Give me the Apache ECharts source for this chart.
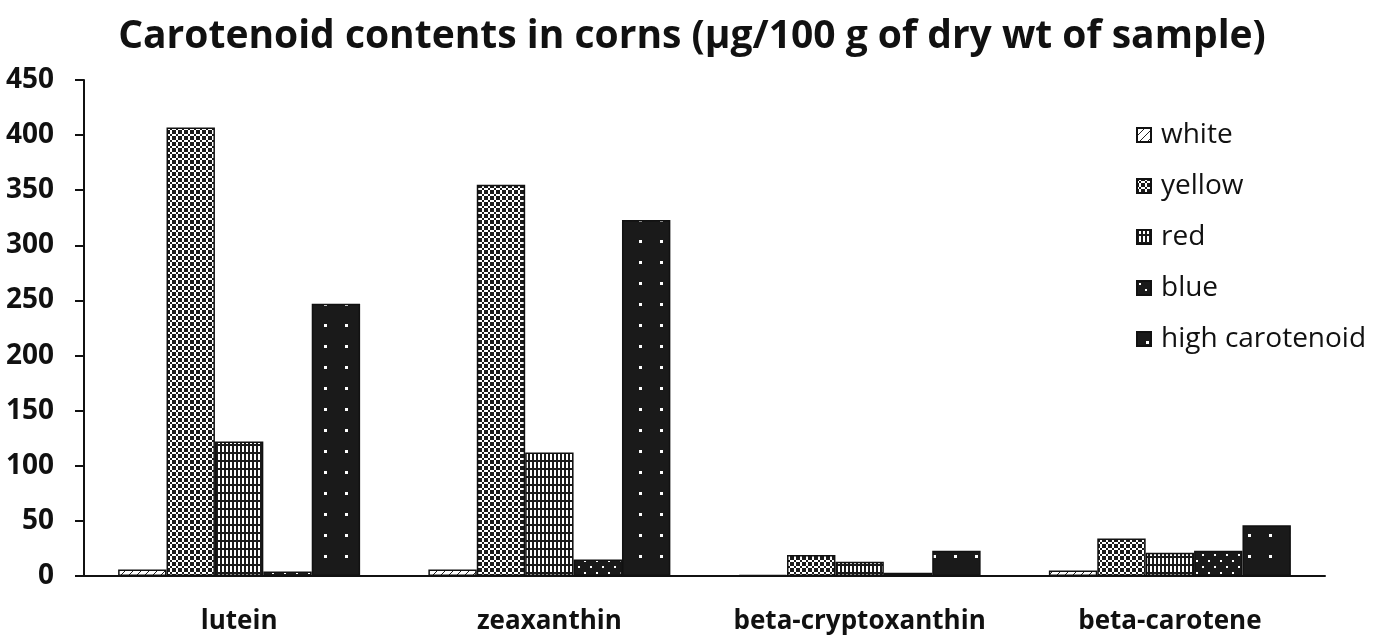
<!DOCTYPE html>
<html>
<head>
<meta charset="utf-8">
<script src="https://cdn.jsdelivr.net/npm/echarts@6/dist/echarts.min.js"></script>
<style>
html,body{margin:0;padding:0;background:#fff;}
#chart{width:1384px;height:642px;}
</style>
</head>
<body>
<div id="chart"></div>
<script>
const titleText = 'Carotenoid contents in corns (\u03bcg/100 g of dry wt of sample)';
const categories = ['lutein', 'zeaxanthin', 'beta-cryptoxanthin', 'beta-carotene'];
const seriesNames = ['white', 'yellow', 'red', 'blue', 'high carotenoid'];
const whiteVals = [6, 6, 1, 5];
const yellowVals = [407, 355, 19, 34];
const redVals = [122, 112, 13, 21];
const blueVals = [4, 15, 3, 23];
const highVals = [247, 323, 23, 46];
const yTicks = {min: 0, max: 450, interval: 50};

function makeTile(rows, bg, fg, scale) {
  const h = rows.length, w = rows[0].length;
  const c = document.createElement('canvas');
  c.width = w * scale; c.height = h * scale;
  const ctx = c.getContext('2d');
  ctx.fillStyle = bg; ctx.fillRect(0, 0, c.width, c.height);
  ctx.fillStyle = fg;
  for (let y = 0; y < h; y++) for (let x = 0; x < w; x++) {
    if (rows[y][x] === 'X') ctx.fillRect(x * scale, y * scale, scale, scale);
  }
  return c;
}
function dotTile(size, dot) {
  const c = document.createElement('canvas');
  c.width = size; c.height = size;
  const ctx = c.getContext('2d');
  ctx.fillStyle = '#1a1a1a'; ctx.fillRect(0, 0, size, size);
  ctx.fillStyle = '#ffffff';
  ctx.fillRect(Math.floor(size / 2) - 1, Math.floor(size / 2) - 1, dot, dot);
  return c;
}
const patWhite = makeTile([
  '.......X',
  '......X.',
  '.....X..',
  '....X...',
  '...X....',
  '..X.....',
  '.X......',
  'X.......'
], '#ffffff', '#222', 1);
const patYellow = makeTile([
  'X.XX.X',
  '.X..X.',
  'X.XX.X',
  'X.XX.X',
  '.X..X.',
  'X.XX.X'
], '#ffffff', '#1a1a1a', 2);
const patRed = makeTile([
  'X.X.',
  'X.X.',
  'XXXX',
  'X.X.'
], '#ffffff', '#1a1a1a', 2);
const patBlue = makeTile([
  'XXXXXX',
  'X.XXXX',
  'XXXXXX',
  'XXXXXX',
  'XXXX.X',
  'XXXXXX'
], '#ffffff', '#1a1a1a', 2);
const patHigh = dotTile(21, 3);
const patterns = [patWhite, patYellow, patRed, patBlue, patHigh];
const values = [whiteVals, yellowVals, redVals, blueVals, highVals];

const chart = echarts.init(document.getElementById('chart'), null, {renderer: 'canvas'});
const font = '"Open Sans", "Noto Sans", sans-serif';
chart.setOption({
  animation: false,
  backgroundColor: '#ffffff',
  title: {
    text: titleText,
    left: 'center',
    top: 12,
    textStyle: {fontFamily: font, fontWeight: 'bold', fontSize: 39, color: '#111'}
  },
  legend: {
    orient: 'vertical',
    left: 1131,
    top: 114,
    itemWidth: 14,
    itemHeight: 14,
    itemGap: 19,
    icon: 'rect',
    data: seriesNames,
    textStyle: {fontFamily: font, fontSize: 28, color: '#111', lineHeight: 32, padding: [0, 0, 0, 5]}
  },
  grid: {left: 84, right: 59, top: 80, bottom: 66, containLabel: false},
  xAxis: {
    type: 'category',
    data: categories,
    axisLine: {lineStyle: {color: '#111', width: 2}},
    axisTick: {show: false},
    axisLabel: {fontFamily: font, fontWeight: 'bold', fontSize: 26, color: '#111', margin: 33, interval: 0, hideOverlap: false}
  },
  yAxis: {
    type: 'value',
    min: yTicks.min, max: yTicks.max, interval: yTicks.interval,
    axisLine: {show: true, lineStyle: {color: '#111', width: 2}},
    axisTick: {show: true, length: 9, lineStyle: {color: '#111', width: 2}},
    splitLine: {show: false},
    axisLabel: {fontFamily: font, fontWeight: 'bold', fontSize: 28, color: '#111', margin: 30}
  },
  series: seriesNames.map((n, i) => ({
    name: n,
    type: 'bar',
    data: values[i],
    barGap: '0%',
    barCategoryGap: '22%',
    itemStyle: {
      color: {image: patterns[i], repeat: 'repeat'},
      borderColor: '#111',
      borderWidth: 1.5
    }
  }))
});
</script>
</body>
</html>
